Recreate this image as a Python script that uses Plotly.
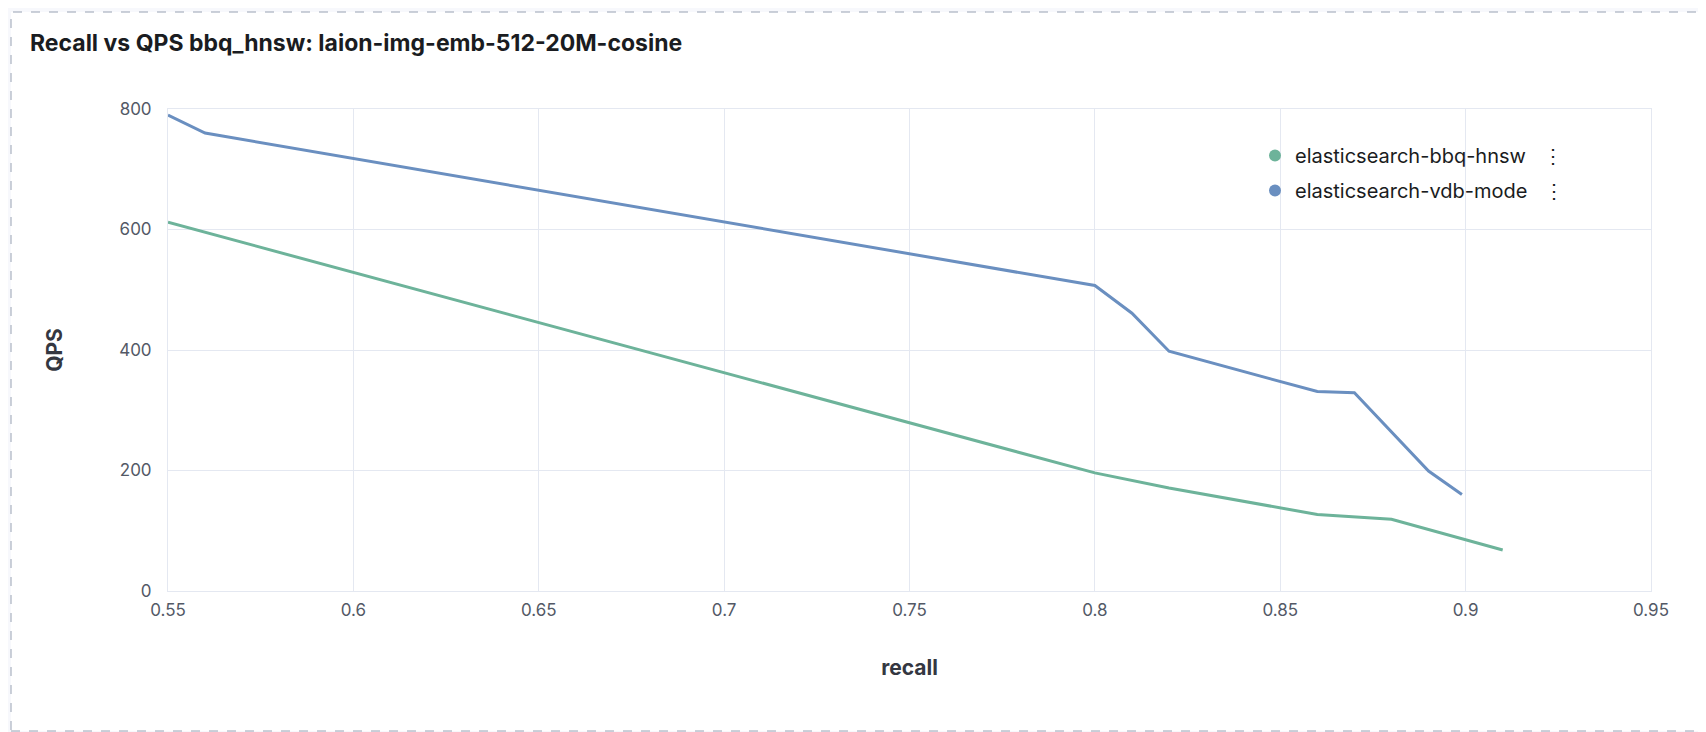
import plotly.graph_objects as go

bbq_recall = [0.55, 0.80, 0.82, 0.86, 0.88, 0.91]
bbq_qps = [612, 196, 171, 127, 119, 68]

vdb_recall = [0.55, 0.56, 0.80, 0.81, 0.82, 0.86, 0.87, 0.89, 0.899]
vdb_qps = [790, 760, 507, 461, 398, 331, 329, 199, 160]

names = ["elasticsearch-bbq-hnsw", "elasticsearch-vdb-mode"]
colors = ["#6DB39A", "#6A8FC0"]

W, H = 1706, 732
L, R, T, B = 160, W - 1643, 101, H - 583

fig = go.Figure()
for xs, ys, name, color in [(bbq_recall, bbq_qps, names[0], colors[0]),
                            (vdb_recall, vdb_qps, names[1], colors[1])]:
    fig.add_trace(go.Scatter(x=xs, y=ys, mode="lines", name=name, showlegend=False,
                             legendgroup=name, line=dict(color=color, width=3)))
    # legend entry drawn as a dot
    fig.add_trace(go.Scatter(x=[None], y=[None], mode="markers", name=name + "   ⋮",
                             legendgroup=name, marker=dict(color=color, size=15)))

pw, ph = W - L - R, H - T - B
fig.update_layout(
    width=W, height=H,
    margin=dict(l=L, r=R, t=T, b=B),
    paper_bgcolor="#F7F8FC", plot_bgcolor="white",
    font=dict(family="Inter", color="#343741", size=17),
    title=dict(text="<b>Recall vs QPS bbq_hnsw: laion-img-emb-512-20M-cosine</b>",
               x=22 / W, y=1 - 35 / H, xanchor="left", yanchor="middle",
               font=dict(size=23, color="#1a1c21")),
    xaxis=dict(range=[0.55, 0.95], dtick=0.05, gridcolor="#E4E8F1",
               linecolor="#E4E8F1", showline=True, mirror=True, zeroline=False,
               title=dict(text="<b>recall</b>", font=dict(size=21), standoff=40),
               tickfont=dict(color="#535966"), ticklabelstandoff=4),
    yaxis=dict(range=[0, 800], dtick=200, gridcolor="#E4E8F1",
               linecolor="#E4E8F1", showline=True, mirror=True, zeroline=False,
               title=dict(text="<b>QPS</b>", font=dict(size=21), standoff=50),
               tickfont=dict(color="#535966"), ticklabelstandoff=12),
    legend=dict(x=(1247 - L) / pw, y=1 - (128 - T) / ph, xanchor="left", yanchor="top",
                bgcolor="rgba(0,0,0,0)", font=dict(size=20, color="#1a1c21"),
                itemsizing="constant", tracegroupgap=6),
    shapes=[dict(type="rect", xref="paper", yref="paper",
                 x0=-(L - 3) / pw, x1=1 + (R - 5) / pw,
                 y0=-(B - 9) / ph, y1=1 + (T - 4) / ph,
                 line=dict(color="#98A2B3", width=1, dash="dash"),
                 fillcolor="white", layer="below")],
)
fig.write_html("out.html")
